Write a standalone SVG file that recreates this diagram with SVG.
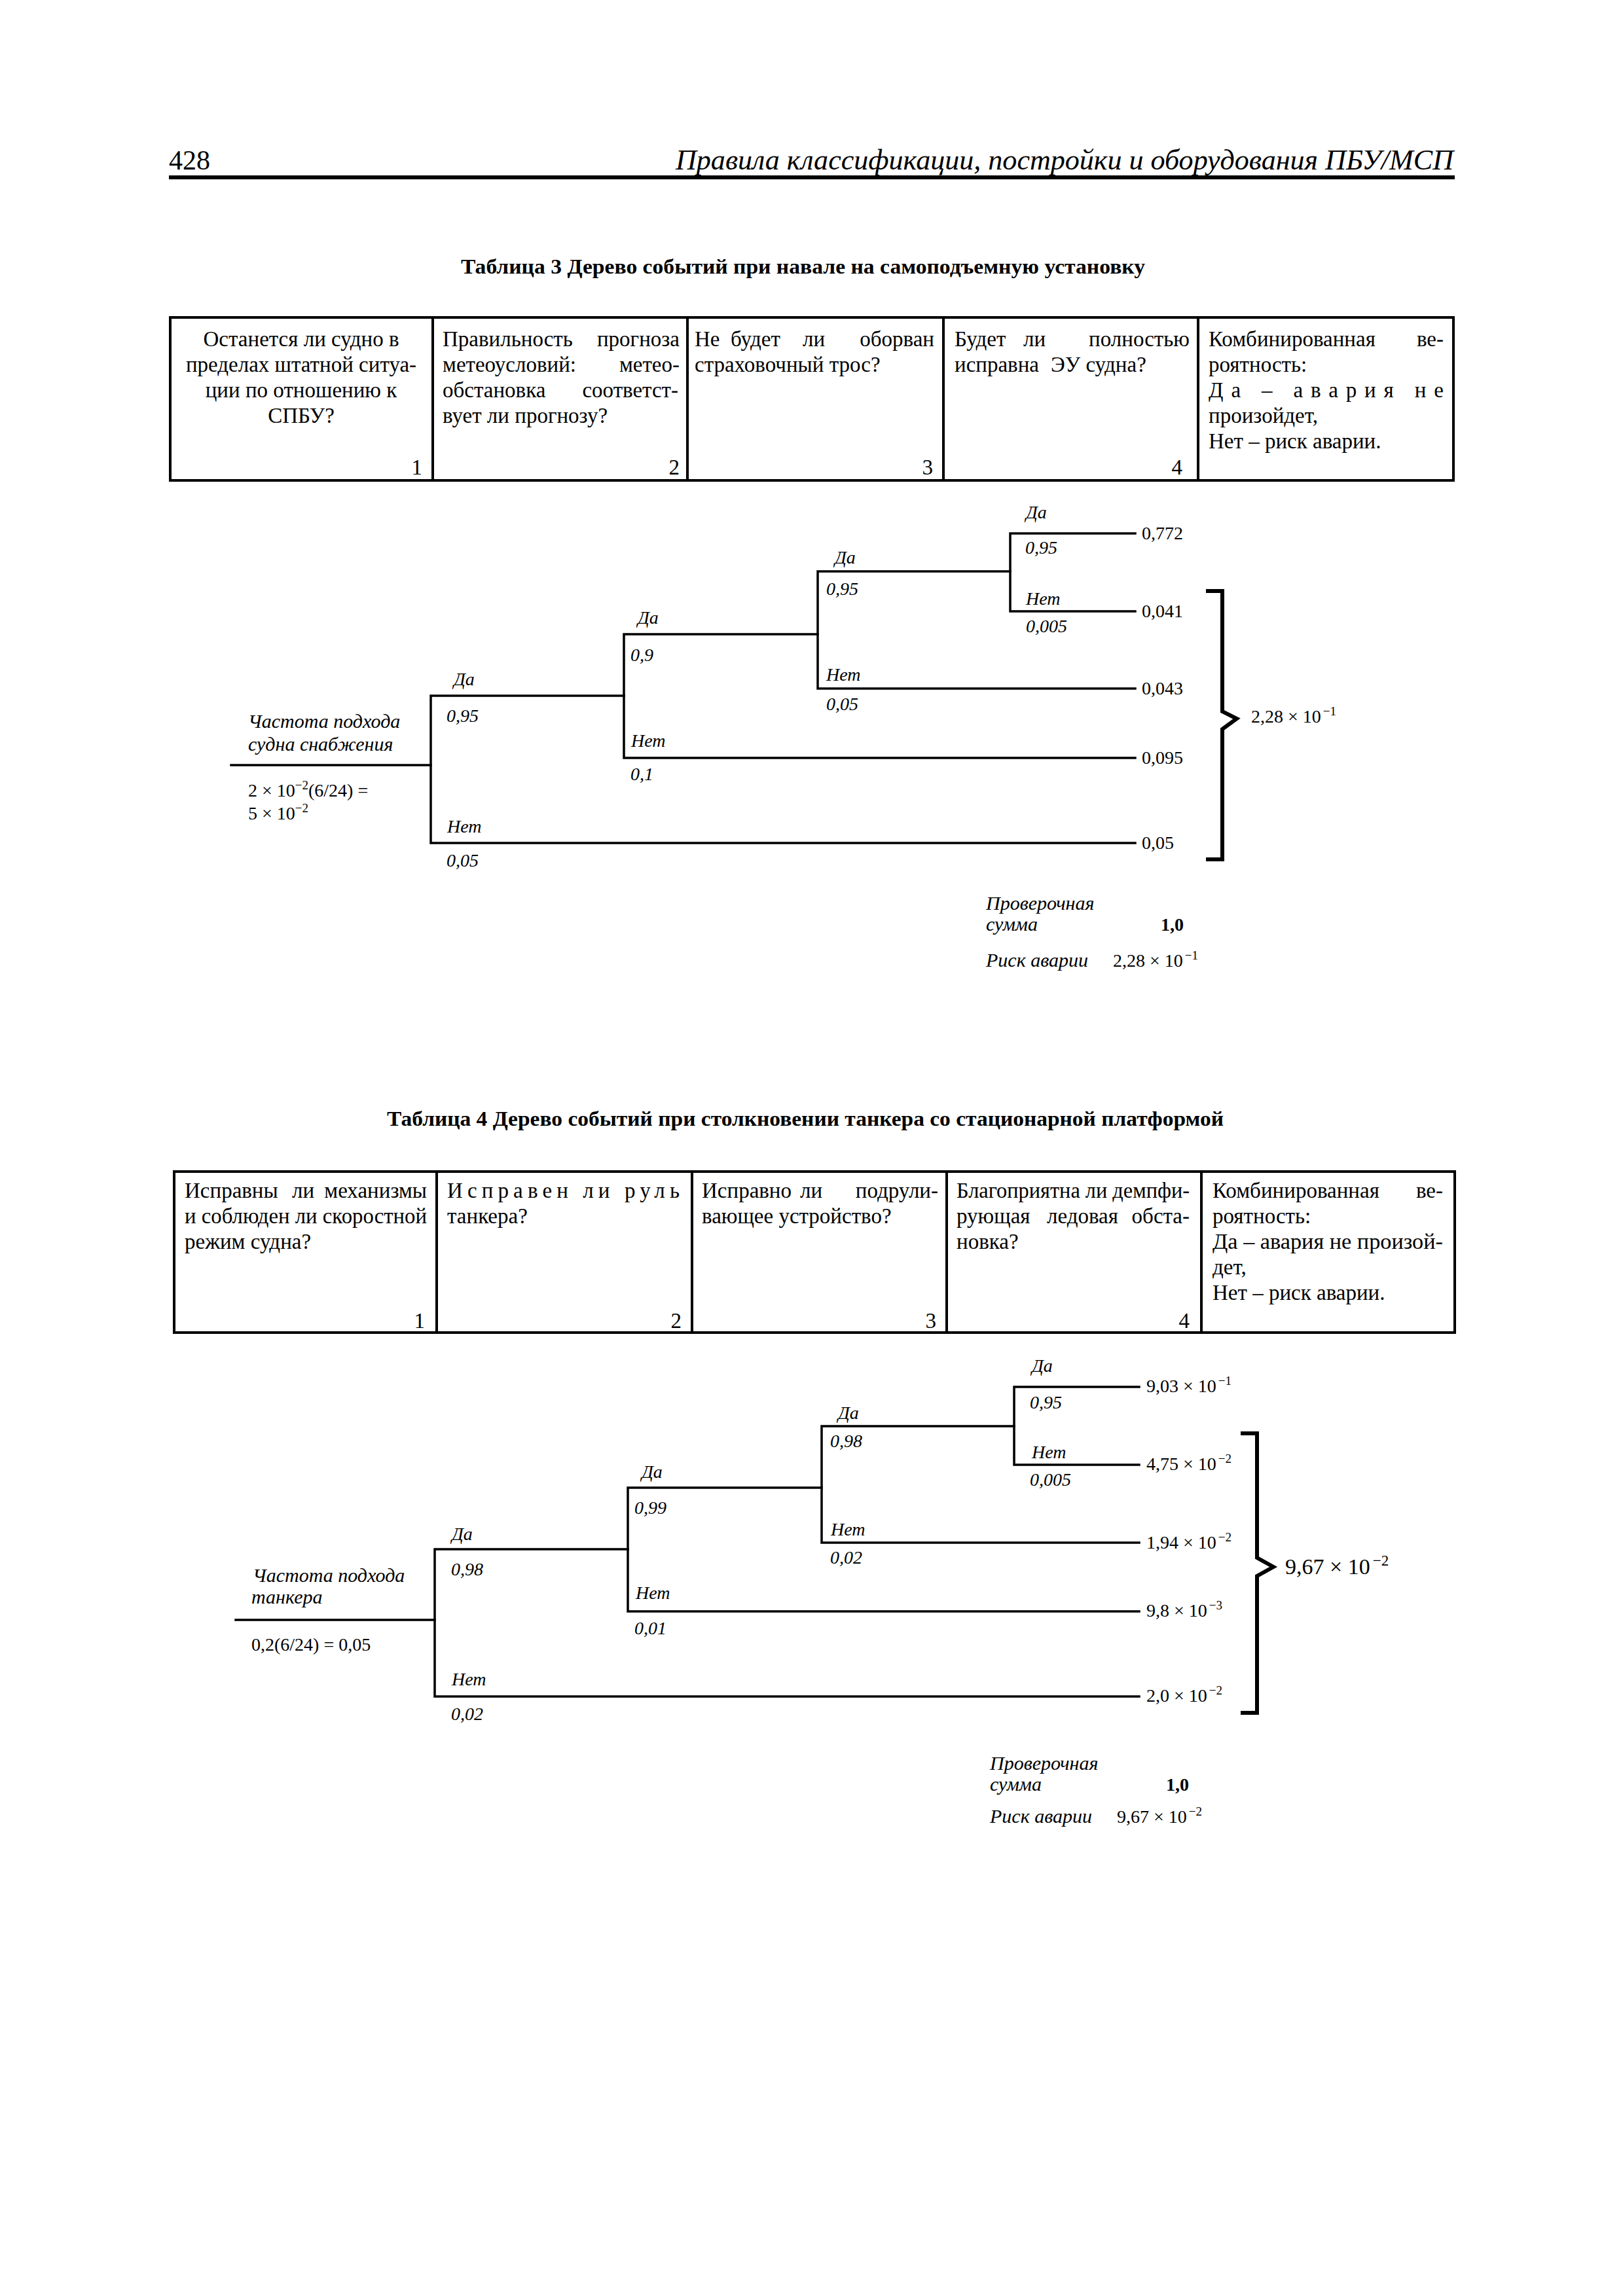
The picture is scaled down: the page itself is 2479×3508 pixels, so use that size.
<svg xmlns="http://www.w3.org/2000/svg" width="2479" height="3508" viewBox="0 0 2479 3508">
<style>
text{font-family:"Liberation Serif","Times New Roman",serif;fill:#000}
.c{font-size:33px}
.i{font-size:28px;font-style:italic}
.il{font-size:30px;font-style:italic}
.v{font-size:28px}
.b{font-weight:bold}
.s{font-size:19px}
.ln{stroke:#000;stroke-width:3.5;fill:none;stroke-linecap:square}
.br{stroke:#000;stroke-width:6;fill:none}
.tb{stroke:#000;stroke-width:4;fill:none}
</style>
<rect width="2479" height="3508" fill="#fff"/>

<g id="page-header">
<text x="258" y="259" font-size="42">428</text>
<text x="1032" y="259" font-size="44" font-style="italic" textLength="1188" lengthAdjust="spacingAndGlyphs">Правила классификации, постройки и оборудования ПБУ/МСП</text>
<line x1="258" y1="271" x2="2222" y2="271" stroke="#000" stroke-width="6"/>
</g>

<!-- ================= TABLE 3 ================= -->
<g id="table3-title"><text x="704" y="418" class="b" font-size="32" textLength="1045" lengthAdjust="spacingAndGlyphs">Таблица 3 Дерево событий при навале на самоподъемную установку</text></g>

<g id="table3-header">
<rect x="260" y="485" width="1960" height="249" class="tb"/>
<line x1="661" y1="485" x2="661" y2="734" class="tb"/>
<line x1="1050" y1="485" x2="1050" y2="734" class="tb"/>
<line x1="1441" y1="485" x2="1441" y2="734" class="tb"/>
<line x1="1830" y1="485" x2="1830" y2="734" class="tb"/>
<g id="t3-col1">
<text x="460" y="529" text-anchor="middle" class="c">Останется ли судно в</text>
<text x="460" y="568" text-anchor="middle" class="c">пределах штатной ситуа-</text>
<text x="460" y="607" text-anchor="middle" class="c">ции по отношению к</text>
<text x="460" y="646" text-anchor="middle" class="c">СПБУ?</text>
<text x="645" y="725" text-anchor="end" class="c">1</text>
</g>
<g id="t3-col2">
<text x="676" y="529" class="c">Правильность</text><text x="1038" y="529" text-anchor="end" class="c">прогноза</text>
<text x="676" y="568" class="c">метеоусловий:</text><text x="1038" y="568" text-anchor="end" class="c">метео-</text>
<text x="676" y="607" class="c">обстановка</text><text x="1036" y="607" text-anchor="end" class="c">соответст-</text>
<text x="676" y="646" class="c">вует ли прогнозу?</text>
<text x="1038" y="725" text-anchor="end" class="c">2</text>
</g>
<g id="t3-col3">
<text x="1061" y="529" class="c">Не</text><text x="1116" y="529" class="c">будет</text><text x="1226" y="529" class="c">ли</text><text x="1427" y="529" text-anchor="end" class="c">оборван</text>
<text x="1061" y="568" class="c">страховочный трос?</text>
<text x="1425" y="725" text-anchor="end" class="c">3</text>
</g>
<g id="t3-col4">
<text x="1458" y="529" class="c">Будет</text><text x="1563" y="529" class="c">ли</text><text x="1817" y="529" text-anchor="end" class="c">полностью</text>
<text x="1458" y="568" class="c">исправна</text><text x="1605" y="568" class="c">ЭУ судна?</text>
<text x="1806" y="725" text-anchor="end" class="c">4</text>
</g>
<g id="t3-col5">
<text x="1846" y="529" class="c">Комбинированная</text><text x="2205" y="529" text-anchor="end" class="c">ве-</text>
<text x="1846" y="568" class="c">роятность:</text>
<text x="1846" y="607" class="c" textLength="359" lengthAdjust="spacing">Да – авария не</text>
<text x="1846" y="646" class="c">произойдет,</text>
<text x="1846" y="685" class="c">Нет – риск аварии.</text>
</g>
</g>

<g id="tree1-connectors">
<polyline class="ln" points="353,1169 658,1169"/>
<polyline class="ln" points="953,1063 658,1063 658,1288 1734,1288"/>
<polyline class="ln" points="1249,969 953,969 953,1158 1734,1158"/>
<polyline class="ln" points="1543,873 1249,873 1249,1052 1734,1052"/>
<polyline class="ln" points="1734,815 1543,815 1543,934 1734,934"/>
<path class="br" d="M1842,903 H1867 V1087 L1889,1098 L1867,1114 V1313 H1842"/>
</g>

<g id="tree1-start">
<text x="379" y="1112" class="il">Частота подхода</text>
<text x="379" y="1147" class="il">судна снабжения</text>
<text x="379" y="1217" class="v">2 × 10<tspan dy="-11" class="s">−2</tspan><tspan dy="11">(6/24) =</tspan></text>
<text x="379" y="1252" class="v">5 × 10<tspan dy="-11" class="s">−2</tspan></text>
</g>
<g id="tree1-node1">
<text x="693" y="1047" class="i">Да</text><text x="682" y="1103" class="i">0,95</text>
<text x="683" y="1272" class="i">Нет</text><text x="682" y="1324" class="i">0,05</text>
</g>
<g id="tree1-node2">
<text x="974" y="953" class="i">Да</text><text x="963" y="1010" class="i">0,9</text>
<text x="964" y="1141" class="i">Нет</text><text x="963" y="1192" class="i">0,1</text>
</g>
<g id="tree1-node3">
<text x="1275" y="861" class="i">Да</text><text x="1262" y="909" class="i">0,95</text>
<text x="1262" y="1040" class="i">Нет</text><text x="1262" y="1085" class="i">0,05</text>
</g>
<g id="tree1-node4">
<text x="1567" y="792" class="i">Да</text><text x="1566" y="846" class="i">0,95</text>
<text x="1567" y="924" class="i">Нет</text><text x="1567" y="966" class="i">0,005</text>
</g>
<g id="tree1-outcomes">
<text x="1744" y="824" class="v">0,772</text>
<text x="1744" y="943" class="v">0,041</text>
<text x="1744" y="1061" class="v">0,043</text>
<text x="1744" y="1167" class="v">0,095</text>
<text x="1744" y="1297" class="v">0,05</text>
<text x="1911" y="1104" class="v">2,28 × 10<tspan dy="-11" class="s" dx="3">−1</tspan></text>
</g>
<g id="tree1-summary">
<text x="1506" y="1390" class="il">Проверочная</text>
<text x="1506" y="1422" class="il">сумма</text>
<text x="1773" y="1422" class="v b">1,0</text>
<text x="1506" y="1477" class="il">Риск аварии</text>
<text x="1700" y="1477" class="v">2,28 × 10<tspan dy="-11" class="s" dx="3">−1</tspan></text>
</g>

<!-- ================= TABLE 4 ================= -->
<g id="table4-title"><text x="591" y="1720" class="b" font-size="32" textLength="1278" lengthAdjust="spacingAndGlyphs">Таблица 4 Дерево событий при столкновении танкера со стационарной платформой</text></g>

<g id="table4-header">
<rect x="266" y="1790" width="1956" height="246" class="tb"/>
<line x1="667" y1="1790" x2="667" y2="2036" class="tb"/>
<line x1="1057" y1="1790" x2="1057" y2="2036" class="tb"/>
<line x1="1446" y1="1790" x2="1446" y2="2036" class="tb"/>
<line x1="1835" y1="1790" x2="1835" y2="2036" class="tb"/>
<g id="t4-col1">
<text x="282" y="1830" class="c">Исправны</text><text x="446" y="1830" class="c">ли</text><text x="652" y="1830" text-anchor="end" class="c">механизмы</text>
<text x="282" y="1869" class="c" textLength="370" lengthAdjust="spacingAndGlyphs">и соблюден ли скоростной</text>
<text x="282" y="1908" class="c">режим судна?</text>
<text x="649" y="2029" text-anchor="end" class="c">1</text>
</g>
<g id="t4-col2">
<text x="683" y="1830" class="c" textLength="355" lengthAdjust="spacing">Исправен ли руль</text>
<text x="683" y="1869" class="c">танкера?</text>
<text x="1041" y="2029" text-anchor="end" class="c">2</text>
</g>
<g id="t4-col3">
<text x="1072" y="1830" class="c">Исправно</text><text x="1222" y="1830" class="c">ли</text><text x="1433" y="1830" text-anchor="end" class="c">подрули-</text>
<text x="1072" y="1869" class="c">вающее устройство?</text>
<text x="1430" y="2029" text-anchor="end" class="c">3</text>
</g>
<g id="t4-col4">
<text x="1461" y="1830" class="c" textLength="356" lengthAdjust="spacingAndGlyphs">Благоприятна ли демпфи-</text>
<text x="1461" y="1869" class="c">рующая</text><text x="1599" y="1869" class="c">ледовая</text><text x="1817" y="1869" text-anchor="end" class="c">обста-</text>
<text x="1461" y="1908" class="c">новка?</text>
<text x="1817" y="2029" text-anchor="end" class="c">4</text>
</g>
<g id="t4-col5">
<text x="1852" y="1830" class="c">Комбинированная</text><text x="2204" y="1830" text-anchor="end" class="c">ве-</text>
<text x="1852" y="1869" class="c">роятность:</text>
<text x="1852" y="1908" class="c" textLength="352" lengthAdjust="spacingAndGlyphs">Да – авария не произой-</text>
<text x="1852" y="1947" class="c">дет,</text>
<text x="1852" y="1986" class="c">Нет – риск аварии.</text>
</g>
</g>

<g id="tree2-connectors">
<polyline class="ln" points="360,2475 664,2475"/>
<polyline class="ln" points="959,2367 664,2367 664,2592 1740,2592"/>
<polyline class="ln" points="1255,2273 959,2273 959,2462 1740,2462"/>
<polyline class="ln" points="1549,2179 1255,2179 1255,2357 1740,2357"/>
<polyline class="ln" points="1740,2119 1549,2119 1549,2238 1740,2238"/>
<path class="br" d="M1895,2190 H1920 V2380 L1945,2394 L1920,2408 V2617 H1895"/>
</g>

<g id="tree2-start">
<text x="386" y="2417" class="il">Частота подхода</text>
<text x="384" y="2450" class="il">танкера</text>
<text x="384" y="2522" class="v">0,2(6/24) = 0,05</text>
</g>
<g id="tree2-node1">
<text x="690" y="2353" class="i">Да</text><text x="689" y="2407" class="i">0,98</text>
<text x="690" y="2575" class="i">Нет</text><text x="689" y="2628" class="i">0,02</text>
</g>
<g id="tree2-node2">
<text x="980" y="2258" class="i">Да</text><text x="969" y="2313" class="i">0,99</text>
<text x="971" y="2443" class="i">Нет</text><text x="969" y="2497" class="i">0,01</text>
</g>
<g id="tree2-node3">
<text x="1280" y="2168" class="i">Да</text><text x="1268" y="2211" class="i">0,98</text>
<text x="1269" y="2346" class="i">Нет</text><text x="1268" y="2389" class="i">0,02</text>
</g>
<g id="tree2-node4">
<text x="1576" y="2096" class="i">Да</text><text x="1573" y="2152" class="i">0,95</text>
<text x="1576" y="2228" class="i">Нет</text><text x="1573" y="2270" class="i">0,005</text>
</g>
<g id="tree2-outcomes">
<text x="1751" y="2127" class="v">9,03 × 10<tspan dy="-11" class="s" dx="3">−1</tspan></text>
<text x="1751" y="2246" class="v">4,75 × 10<tspan dy="-11" class="s" dx="3">−2</tspan></text>
<text x="1751" y="2366" class="v">1,94 × 10<tspan dy="-11" class="s" dx="3">−2</tspan></text>
<text x="1751" y="2470" class="v">9,8 × 10<tspan dy="-11" class="s" dx="3">−3</tspan></text>
<text x="1751" y="2600" class="v">2,0 × 10<tspan dy="-11" class="s" dx="3">−2</tspan></text>
<text x="1963" y="2405" font-size="34">9,67 × 10<tspan dy="-13" dx="4" font-size="23">−2</tspan></text>
</g>
<g id="tree2-summary">
<text x="1512" y="2704" class="il">Проверочная</text>
<text x="1512" y="2736" class="il">сумма</text>
<text x="1781" y="2736" class="v b">1,0</text>
<text x="1512" y="2785" class="il">Риск аварии</text>
<text x="1706" y="2785" class="v">9,67 × 10<tspan dy="-11" class="s" dx="3">−2</tspan></text>
</g>
</svg>
